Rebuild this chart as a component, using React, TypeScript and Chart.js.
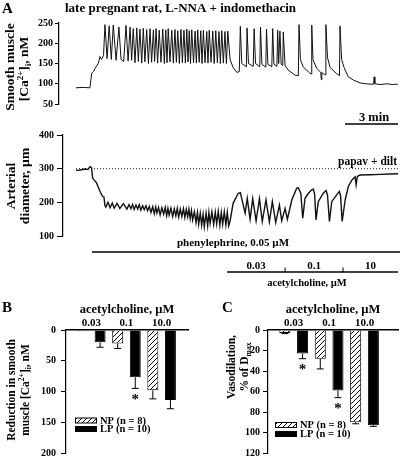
import { useEffect, useRef } from 'react';
import { Chart, registerables } from 'chart.js';

Chart.register(...registerables);

const SERIF = '"Liberation Serif", "Times New Roman", Times, serif';
const bold = (s: number) => `bold ${s}px ${SERIF}`;
const CH = 480; // canvas height (page crops at 456)

// ---------------- Panel A data (time in min) ----------------
const caTrace: number[][] = [
  [0, 90], [0.4, 91], [0.79, 90], [0.89, 126], [0.99, 130], [1.08, 138], [1.26, 150], [1.36, 167], [1.45, 160], [1.56, 170],
  [1.64, 246], [1.76, 162], [1.88, 243], [2.0, 160], [2.11, 245], [2.27, 158], [2.43, 240], [2.55, 160], [2.7, 155],
  [2.83, 244], [2.95, 156], [3.06, 240], [3.15, 158], [3.24, 236], [3.34, 152], [3.44, 238], [3.53, 155], [3.62, 235],
  [3.72, 151], [3.81, 237], [3.9, 154], [4.0, 234], [4.1, 150], [4.19, 236], [4.28, 153], [4.38, 233], [4.45, 155],
  [4.53, 236], [4.62, 151], [4.71, 232], [4.81, 153], [4.91, 235], [5.0, 150], [5.08, 233], [5.15, 152], [5.22, 236],
  [5.32, 154], [5.42, 232], [5.51, 151], [5.6, 234], [5.68, 153], [5.76, 231], [5.85, 150], [5.94, 234], [6.02, 152],
  [6.11, 232], [6.19, 151], [6.27, 235], [6.34, 154], [6.41, 231], [6.48, 150], [6.55, 233], [6.65, 152], [6.74, 230],
  [6.81, 151], [6.89, 233], [6.97, 153], [7.06, 231], [7.13, 150], [7.21, 232], [7.3, 152], [7.4, 229], [7.47, 151],
  [7.54, 232], [7.64, 153], [7.74, 230], [7.82, 150], [7.91, 231], [8.0, 152], [8.09, 229], [8.17, 150], [8.25, 231],
  [8.34, 151], [8.43, 229], [8.51, 150], [8.59, 230],
  [8.72, 160], [8.89, 140], [9.1, 128], [9.24, 130],
  [9.3, 242], [9.38, 150], [9.64, 142], [9.68, 238], [9.76, 150], [10.03, 143], [10.08, 236], [10.16, 150], [10.4, 142],
  [10.44, 240], [10.52, 148], [10.74, 141], [10.78, 235], [10.86, 148], [11.08, 142], [11.13, 236], [11.2, 148],
  [11.37, 143], [11.41, 232], [11.47, 150], [11.54, 230], [11.61, 148], [11.7, 145], [11.73, 228], [11.83, 145],
  [12.0, 134], [12.4, 121], [12.58, 120],
  [12.62, 246], [12.7, 160], [12.85, 142], [13.24, 126], [13.31, 124], [13.34, 245], [13.41, 160], [13.62, 138],
  [13.85, 128], [13.88, 110], [13.91, 128], [13.99, 125], [14.11, 122], [14.14, 246], [14.23, 165], [14.38, 140],
  [14.75, 125], [14.91, 120], [14.94, 243], [15.03, 160], [15.17, 140], [15.41, 117], [15.7, 109], [16.07, 102],
  [16.4, 100], [16.64, 99], [16.84, 99], [16.87, 117], [16.91, 100], [17.21, 98], [17.59, 100], [17.89, 98],
  [18.15, 99], [18.22, 98],
];

const diamTrace: number[][] = [
  [0, 295], [0.23, 296], [0.51, 299], [0.68, 298], [0.79, 306], [0.88, 303], [0.94, 272], [1.17, 257], [1.36, 232],
  [1.5, 218], [1.58, 216], [1.64, 190], [1.69, 186], [1.81, 200], [1.93, 184], [2.05, 198], [2.16, 183], [2.32, 197],
  [2.48, 182], [2.68, 196], [2.88, 180], [3.0, 193], [3.11, 181], [3.2, 194], [3.29, 179], [3.39, 192], [3.49, 180],
  [3.58, 193], [3.67, 177], [3.77, 190], [3.86, 178], [3.96, 190], [4.05, 175], [4.15, 188], [4.24, 170], [4.34, 187],
  [4.43, 166], [4.51, 186], [4.58, 168], [4.67, 185], [4.76, 163], [4.86, 184], [4.96, 165], [5.05, 185], [5.13, 160],
  [5.2, 182], [5.27, 162], [5.37, 183], [5.47, 158], [5.56, 181], [5.65, 160], [5.73, 182], [5.81, 156], [5.9, 180],
  [5.99, 158], [6.08, 181], [6.16, 155], [6.24, 179], [6.32, 157], [6.39, 180], [6.46, 152], [6.53, 176], [6.6, 148],
  [6.7, 172], [6.79, 140], [6.87, 170], [6.94, 135], [7.03, 168], [7.11, 132], [7.19, 165], [7.26, 128], [7.36, 168],
  [7.45, 130], [7.52, 170], [7.59, 138], [7.69, 172], [7.79, 134], [7.88, 171], [7.96, 136], [8.05, 173], [8.14, 132],
  [8.22, 170], [8.3, 135], [8.39, 172], [8.48, 133], [8.56, 170], [8.64, 130],
  [8.72, 145], [8.89, 197], [9.18, 227], [9.3, 229], [9.57, 168], [9.69, 212], [9.85, 150], [10.0, 211], [10.19, 145],
  [10.38, 211], [10.54, 143], [10.75, 207], [10.94, 142], [11.11, 202], [11.3, 140], [11.51, 192], [11.64, 145],
  [11.83, 182], [11.96, 150], [12.21, 207], [12.49, 242], [12.58, 243], [12.72, 227], [12.83, 153], [12.96, 212],
  [13.15, 227], [13.34, 237], [13.43, 239], [13.5, 225], [13.58, 148], [13.71, 202], [13.99, 227], [14.15, 235],
  [14.23, 222], [14.34, 143], [14.47, 202], [14.75, 222], [14.9, 232], [14.97, 220], [15.06, 143], [15.23, 207],
  [15.41, 247], [15.61, 266], [15.79, 276], [15.85, 252], [15.92, 277], [16.07, 281], [16.64, 282], [17.21, 283],
  [17.77, 284], [18.22, 285],
];

const traceStart = 0;
const traceEnd = 18.22;
const papavDiltDiameter = 300;
const scaleBarMinutes = 3;
const phenylephrineStart = 0.9;
const achDoseLabels = ['0.03', '0.1', '10'];
const achDoseStarts = [8.55, 11.83, 15.11];

// ---------------- Panels B and C ----------------
const achConcentrations = ['0.03', '0.1', '10.0'];
const groupLabels = ['NP (n = 8)', 'LP (n = 10)'];
const caReductionNP = [2, 22, 98];
const caReductionNPsem = [0, 8, 14];
const caReductionLP = [20, 77, 114];
const caReductionLPsem = [8, 18, 14];
const caReductionSig = [false, true, false];
const vasodilationNP = [3, 28, 90];
const vasodilationNPsem = [0.5, 10, 1.5];
const vasodilationLP = [23, 59, 93];
const vasodilationLPsem = [5, 7, 1];
const vasodilationSig = [true, true, false];

// ---------------- helpers ----------------
type Seg = { t: string; k?: 'sup' | 'sub' };

function rich(
  ctx: CanvasRenderingContext2D,
  segs: Seg[],
  x: number,
  y: number,
  size: number,
  align: 'left' | 'center' | 'right' = 'left',
  rotate = 0
) {
  ctx.save();
  ctx.translate(x, y);
  if (rotate) ctx.rotate(rotate);
  ctx.fillStyle = '#000';
  ctx.textAlign = 'left';
  ctx.textBaseline = 'alphabetic';
  const sz = (s: Seg) => (s.k ? size * 0.66 : size);
  const widths = segs.map((s) => {
    ctx.font = bold(sz(s));
    return ctx.measureText(s.t).width;
  });
  const total = widths.reduce((a, b) => a + b, 0);
  let cx = align === 'left' ? 0 : align === 'center' ? -total / 2 : -total;
  segs.forEach((s, i) => {
    ctx.font = bold(sz(s));
    const dy = s.k === 'sup' ? -size * 0.38 : s.k === 'sub' ? size * 0.22 : 0;
    ctx.fillText(s.t, cx, dy);
    cx += widths[i];
  });
  ctx.restore();
}

const T = (t: string): Seg[] => [{ t }];
const UP = -Math.PI / 2;

function makeHatch(): CanvasPattern | string {
  const c = document.createElement('canvas');
  c.width = 5;
  c.height = 5;
  const g = c.getContext('2d');
  if (!g) return '#fff';
  g.fillStyle = '#fff';
  g.fillRect(0, 0, 5, 5);
  g.strokeStyle = '#000';
  g.lineWidth = 1;
  g.beginPath();
  g.moveTo(-1, 6);
  g.lineTo(6, -1);
  g.moveTo(-1, 1);
  g.lineTo(1, -1);
  g.moveTo(4, 6);
  g.lineTo(6, 4);
  g.stroke();
  const p = g.createPattern(c, 'repeat');
  return p || '#fff';
}

const tickFont = { family: SERIF, size: 10, weight: 'bold' as const };

function yAxis(min: number, max: number, step: number, tickLen: number, pad: number, width: number, reverse = false) {
  return {
    min,
    max,
    reverse,
    afterFit: (s: any) => {
      s.width = width;
    },
    ticks: { stepSize: step, font: tickFont, color: '#000', padding: pad },
    grid: { drawOnChartArea: false, drawTicks: true, tickLength: tickLen, color: '#000', lineWidth: 1 },
    border: { display: true, color: '#000', width: 1.2 },
  };
}

// ---------------- chart configs ----------------
function caConfig(): any {
  return {
    type: 'line',
    data: {
      datasets: [
        {
          data: caTrace.map(([x, y]) => ({ x, y })),
          borderColor: '#111',
          borderWidth: 1,
          pointRadius: 0,
          tension: 0,
          fill: false,
        },
      ],
    },
    options: {
      animation: false,
      responsive: false,
      events: [],
      layout: { padding: { left: 9, right: 2, top: 23, bottom: CH - 104 } },
      plugins: { legend: { display: false }, tooltip: { enabled: false } },
      scales: {
        x: { type: 'linear', display: false, min: -0.96, max: traceEnd },
        y: yAxis(50, 250, 50, 4, 2, 50),
      },
    },
    plugins: [
      {
        id: 'caText',
        afterDraw(chart: any) {
          const ctx = chart.ctx as CanvasRenderingContext2D;
          rich(ctx, T('A'), 2, 13, 15);
          rich(ctx, T('late pregnant rat, L-NNA + indomethacin'), 65, 12, 13);
          rich(ctx, T('Smooth muscle'), 14, 67, 13.5, 'center', UP);
          rich(ctx, [{ t: '[Ca' }, { t: '2+', k: 'sup' }, { t: ']' }, { t: 'i', k: 'sub' }, { t: ', nM' }], 28, 69, 13.5, 'center', UP);
        },
      },
    ],
  };
}

function diamConfig(): any {
  return {
    type: 'line',
    data: {
      datasets: [
        {
          data: diamTrace.map(([x, y]) => ({ x, y })),
          borderColor: '#111',
          borderWidth: 1.4,
          pointRadius: 0,
          tension: 0,
          fill: false,
        },
        {
          data: [
            { x: traceStart, y: papavDiltDiameter },
            { x: traceEnd, y: papavDiltDiameter },
          ],
          borderColor: '#222',
          borderWidth: 1,
          borderDash: [1, 2],
          pointRadius: 0,
          fill: false,
        },
      ],
    },
    options: {
      animation: false,
      responsive: false,
      events: [],
      layout: { padding: { left: 13, right: 2, top: 135, bottom: CH - 236 } },
      plugins: { legend: { display: false }, tooltip: { enabled: false } },
      scales: {
        x: { type: 'linear', display: false, min: -0.736, max: traceEnd },
        y: yAxis(100, 400, 100, 6, 3, 50),
      },
    },
    plugins: [
      {
        id: 'diamText',
        afterDraw(chart: any) {
          const ctx = chart.ctx as CanvasRenderingContext2D;
          const x = chart.scales.x;
          const px = (t: number) => x.getPixelForValue(t);
          rich(ctx, T('Arterial'), 15, 186, 13.5, 'center', UP);
          rich(ctx, T('diameter, µm'), 29, 186, 13.5, 'center', UP);
          rich(ctx, T('papav + dilt'), 397, 165, 11.5, 'right');
          // scale bar
          rich(ctx, T(`${scaleBarMinutes} min`), 374, 121, 12.5, 'center');
          ctx.save();
          ctx.strokeStyle = '#000';
          ctx.lineWidth = 1.6;
          ctx.beginPath();
          ctx.moveTo(px(traceEnd - scaleBarMinutes), 124);
          ctx.lineTo(px(traceEnd), 124);
          ctx.stroke();
          // phenylephrine bar
          ctx.beginPath();
          ctx.moveTo(px(phenylephrineStart), 252);
          ctx.lineTo(chart.width, 252);
          ctx.stroke();
          // acetylcholine bar
          ctx.beginPath();
          ctx.moveTo(px(achDoseStarts[0]), 272);
          ctx.lineTo(px(traceEnd), 272);
          ctx.stroke();
          ctx.lineWidth = 1;
          ctx.beginPath();
          for (let i = 1; i < achDoseStarts.length; i++) {
            ctx.moveTo(px(achDoseStarts[i]), 267.5);
            ctx.lineTo(px(achDoseStarts[i]), 272);
          }
          ctx.stroke();
          ctx.restore();
          rich(ctx, T('phenylephrine, 0.05 µM'), 233, 246, 11, 'center');
          achDoseLabels.forEach((lab, i) => {
            const a = achDoseStarts[i];
            const b = i + 1 < achDoseStarts.length ? achDoseStarts[i + 1] : traceEnd;
            rich(ctx, T(lab), px((a + b) / 2), 268.5, 11, 'center');
          });
          rich(ctx, T('acetylcholine, µM'), 307, 286, 10.5, 'center');
        },
      },
    ],
  };
}

interface BarPanel {
  np: number[];
  npSem: number[];
  lp: number[];
  lpSem: number[];
  sig: boolean[];
  yMax: number;
  yStep: number;
  xMin: number;
  xMax: number;
  padLeft: number;
  padRight: number;
  tickPad: number;
  letter: string;
  letterX: number;
  titles: Seg[][];
  titleX: number[];
  titleY: number;
  titleSize: number;
  legendX: number;
  legendY: number[];
}

function barConfig(p: BarPanel, hatch: CanvasPattern | string): any {
  const common = { categoryPercentage: 1, barPercentage: 0.625, borderColor: '#000', borderWidth: 1 };
  return {
    type: 'bar',
    data: {
      datasets: [
        { label: groupLabels[0], data: p.np.map((y, i) => ({ x: i + 1, y })), backgroundColor: hatch, ...common },
        { label: groupLabels[1], data: p.lp.map((y, i) => ({ x: i + 1, y })), backgroundColor: '#000', ...common },
      ],
    },
    options: {
      animation: false,
      responsive: false,
      events: [],
      layout: { padding: { left: p.padLeft, right: p.padRight, top: 300, bottom: CH - 453 } },
      plugins: { legend: { display: false }, tooltip: { enabled: false } },
      scales: {
        x: {
          type: 'linear',
          position: 'top',
          offset: false,
          min: p.xMin,
          max: p.xMax,
          afterBuildTicks: (s: any) => {
            s.ticks = achConcentrations.map((_, i) => ({ value: i + 1 }));
          },
          afterFit: (s: any) => {
            s.height = 30;
          },
          ticks: {
            callback: (v: any) => achConcentrations[Number(v) - 1] ?? '',
            font: { family: SERIF, size: 11, weight: 'bold' },
            color: '#000',
            padding: 0.5,
            maxRotation: 0,
            autoSkip: false,
          },
          grid: { display: false, drawTicks: false },
          border: { display: true, color: '#000', width: 1.5 },
          title: {
            display: true,
            text: 'acetylcholine, µM',
            color: '#000',
            font: { family: SERIF, size: 12.5, weight: 'bold' },
            padding: { top: 2, bottom: 0 },
          },
        },
        y: yAxis(0, p.yMax, p.yStep, 5, p.tickPad, 50, true),
      },
    },
    plugins: [
      {
        id: 'barExtras',
        afterDatasetsDraw(chart: any) {
          const ctx = chart.ctx as CanvasRenderingContext2D;
          const ys = chart.scales.y;
          const sems = [p.npSem, p.lpSem];
          const vals = [p.np, p.lp];
          ctx.save();
          ctx.strokeStyle = '#000';
          ctx.lineWidth = 1;
          [0, 1].forEach((di) => {
            const meta = chart.getDatasetMeta(di);
            meta.data.forEach((bar: any, i: number) => {
              const v = vals[di][i];
              const e = sems[di][i];
              const x = bar.x;
              const y0 = ys.getPixelForValue(v);
              const y1 = ys.getPixelForValue(v + e);
              if (e > 0) {
                ctx.beginPath();
                ctx.moveTo(x, y0);
                ctx.lineTo(x, y1);
                ctx.moveTo(x - 3.5, y1);
                ctx.lineTo(x + 3.5, y1);
                ctx.stroke();
              }
              if (di === 1 && p.sig[i]) {
                ctx.fillStyle = '#000';
                ctx.font = bold(15);
                ctx.textAlign = 'center';
                ctx.textBaseline = 'top';
                ctx.fillText('*', x, y1 + 4);
              }
            });
          });
          ctx.restore();
        },
        afterDraw(chart: any) {
          const ctx = chart.ctx as CanvasRenderingContext2D;
          rich(ctx, T(p.letter), p.letterX, 312, 15);
          p.titles.forEach((segs, i) => rich(ctx, segs, p.titleX[i], p.titleY, p.titleSize, 'center', UP));
          // legend
          chart.data.datasets.forEach((ds: any, i: number) => {
            const yc = p.legendY[i];
            ctx.save();
            ctx.fillStyle = ds.backgroundColor;
            ctx.fillRect(p.legendX, yc - 2.5, 22, 5);
            ctx.strokeStyle = '#000';
            ctx.lineWidth = 1;
            ctx.strokeRect(p.legendX + 0.5, yc - 2.5, 21, 5);
            ctx.restore();
            ctx.save();
            ctx.font = bold(10.5);
            ctx.fillStyle = '#000';
            ctx.textBaseline = 'middle';
            ctx.textAlign = 'left';
            ctx.fillText(ds.label, p.legendX + 25, yc + 0.5);
            ctx.restore();
          });
        },
      },
    ],
  };
}

export default function App() {
  const r1 = useRef<HTMLCanvasElement>(null);
  const r2 = useRef<HTMLCanvasElement>(null);
  const r3 = useRef<HTMLCanvasElement>(null);
  const r4 = useRef<HTMLCanvasElement>(null);

  useEffect(() => {
    const hatch = makeHatch();
    const charts: Chart[] = [];
    if (r1.current) charts.push(new Chart(r1.current, caConfig()));
    if (r2.current) charts.push(new Chart(r2.current, diamConfig()));
    if (r3.current)
      charts.push(
        new Chart(
          r3.current,
          barConfig(
            {
              np: caReductionNP,
              npSem: caReductionNPsem,
              lp: caReductionLP,
              lpSem: caReductionLPsem,
              sig: caReductionSig,
              yMax: 200,
              yStep: 50,
              xMin: 0.28,
              xMax: 3.75,
              padLeft: 16,
              padRight: 212,
              tickPad: 5,
              letter: 'B',
              letterX: 2,
              titles: [T('Reduction in smooth'), [{ t: 'muscle [Ca' }, { t: '2+', k: 'sup' }, { t: ']' }, { t: 'i', k: 'sub' }, { t: ', nM' }]],
              titleX: [14.5, 28.5],
              titleY: 390,
              titleSize: 11.5,
              legendX: 75,
              legendY: [420.5, 429],
            },
            hatch
          )
        )
      );
    if (r4.current)
      charts.push(
        new Chart(
          r4.current,
          barConfig(
            {
              np: vasodilationNP,
              npSem: vasodilationNPsem,
              lp: vasodilationLP,
              lpSem: vasodilationLPsem,
              sig: vasodilationSig,
              yMax: 120,
              yStep: 20,
              xMin: 0.273,
              xMax: 3.946,
              padLeft: 218,
              padRight: 2,
              tickPad: 3,
              letter: 'C',
              letterX: 222,
              titles: [T('Vasodilation,'), [{ t: '% of D' }, { t: 'max', k: 'sub' }]],
              titleX: [235, 248],
              titleY: 367,
              titleSize: 11.5,
              legendX: 275,
              legendY: [425, 434],
            },
            hatch
          )
        )
      );
    return () => charts.forEach((c) => c.destroy());
  }, []);

  const cs: React.CSSProperties = { position: 'absolute', left: 0, top: 0, width: 400, height: CH };
  return (
    <div style={{ position: 'absolute', left: 0, top: 0, width: 400, height: 456, overflow: 'hidden', background: '#fff' }}>
      <canvas ref={r1} width={400} height={CH} style={cs} />
      <canvas ref={r2} width={400} height={CH} style={cs} />
      <canvas ref={r3} width={400} height={CH} style={cs} />
      <canvas ref={r4} width={400} height={CH} style={cs} />
    </div>
  );
}
